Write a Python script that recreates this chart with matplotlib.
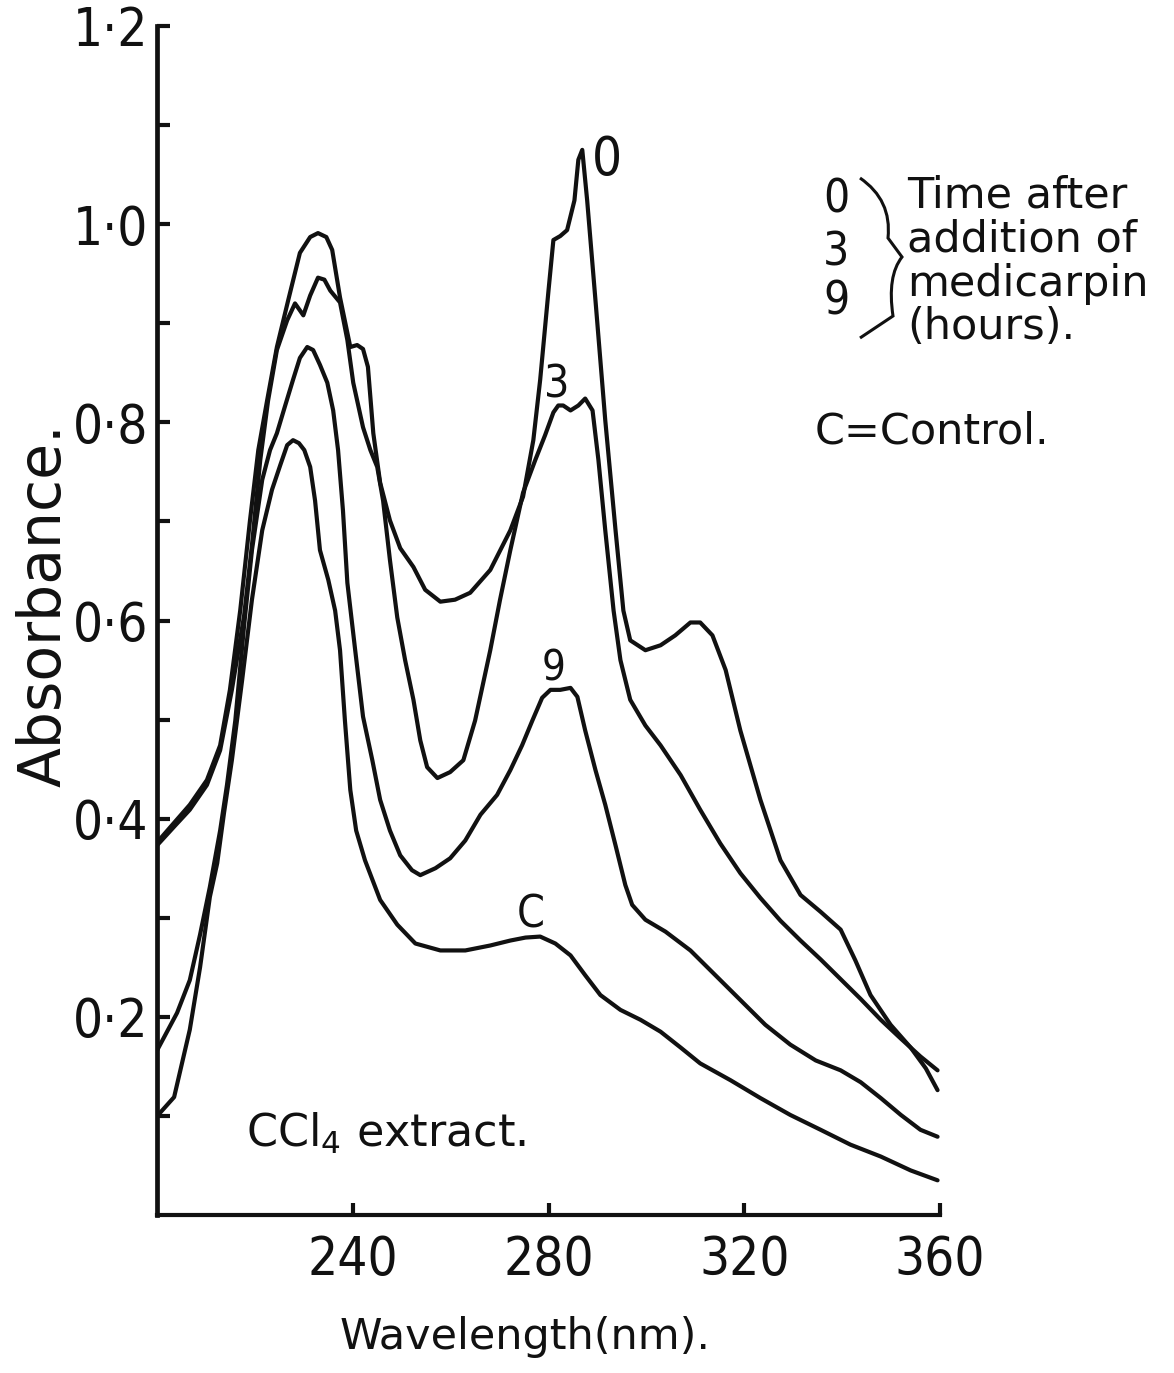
import matplotlib
matplotlib.use("Agg")
import matplotlib.pyplot as plt
from matplotlib import font_manager
from matplotlib.path import Path
from matplotlib.patches import PathPatch
from matplotlib.transforms import Affine2D
from matplotlib.ticker import FixedLocator, FuncFormatter

# ---------------------------------------------------------------------------
# UV absorption spectra of the CCl4 extract (wavelength nm, absorbance)
# ---------------------------------------------------------------------------
curve_0 = [
    (200.0, 0.376), (203.7, 0.397), (206.7, 0.414), (210.2, 0.439), (212.9, 0.474),
    (214.9, 0.530), (217.0, 0.610), (219.0, 0.701), (220.7, 0.772), (222.5, 0.822),
    (224.5, 0.876), (226.8, 0.923), (229.2, 0.971), (231.3, 0.987), (232.9, 0.991),
    (234.6, 0.987), (235.8, 0.974), (237.4, 0.926), (239.5, 0.876), (240.9, 0.878),
    (242.1, 0.874), (243.1, 0.856), (244.2, 0.789), (245.6, 0.739), (247.6, 0.701),
    (249.7, 0.673), (252.4, 0.654), (254.8, 0.631), (257.9, 0.619), (260.9, 0.621),
    (264.0, 0.628), (268.1, 0.651), (272.2, 0.691), (274.8, 0.725), (276.9, 0.782),
    (278.3, 0.843), (280.0, 0.933), (281.0, 0.984), (282.4, 0.988), (283.8, 0.994),
    (285.3, 1.024), (286.1, 1.065), (286.9, 1.075), (287.9, 1.024), (289.6, 0.923),
    (291.6, 0.802), (293.7, 0.691), (295.3, 0.610), (296.7, 0.580), (299.8, 0.570),
    (302.9, 0.575), (305.9, 0.585), (309.0, 0.598), (311.0, 0.598), (313.5, 0.585),
    (316.2, 0.550), (319.2, 0.489), (323.3, 0.419), (327.4, 0.358), (331.5, 0.323),
    (335.6, 0.306), (339.7, 0.288), (342.7, 0.257), (345.8, 0.222), (349.9, 0.192),
    (354.0, 0.169), (357.1, 0.148), (359.5, 0.126),
]

curve_3 = [
    (200.0, 0.373), (203.7, 0.393), (206.7, 0.409), (210.2, 0.434), (212.9, 0.469),
    (215.3, 0.530), (217.8, 0.605), (219.4, 0.676), (221.1, 0.762), (222.7, 0.822),
    (224.5, 0.873), (226.6, 0.903), (228.2, 0.920), (229.2, 0.913), (229.9, 0.908),
    (231.3, 0.928), (232.9, 0.946), (234.2, 0.944), (235.4, 0.933), (237.4, 0.921),
    (238.9, 0.883), (240.1, 0.840), (242.1, 0.795), (243.6, 0.772), (245.0, 0.755),
    (246.2, 0.721), (247.6, 0.661), (249.1, 0.603), (250.7, 0.560), (252.4, 0.520),
    (253.8, 0.479), (255.2, 0.452), (257.3, 0.441), (259.9, 0.447), (262.6, 0.459),
    (265.0, 0.499), (268.1, 0.570), (270.1, 0.621), (272.2, 0.671), (274.8, 0.729),
    (277.3, 0.762), (279.3, 0.787), (281.0, 0.810), (282.0, 0.817), (283.0, 0.817),
    (284.5, 0.812), (286.1, 0.817), (287.5, 0.824), (289.0, 0.812), (290.2, 0.762),
    (291.6, 0.691), (293.3, 0.610), (294.7, 0.560), (296.7, 0.520), (299.8, 0.494),
    (302.9, 0.474), (307.0, 0.444), (311.0, 0.409), (315.1, 0.375), (319.2, 0.345),
    (323.3, 0.320), (327.4, 0.297), (331.5, 0.277), (335.6, 0.258), (339.7, 0.238),
    (343.8, 0.218), (347.9, 0.197), (352.0, 0.178), (356.0, 0.160), (359.5, 0.146),
]

curve_9 = [
    (200.0, 0.166), (204.1, 0.204), (206.7, 0.237), (208.8, 0.283), (210.8, 0.331),
    (212.9, 0.388), (214.3, 0.434), (216.0, 0.499), (217.8, 0.595), (219.4, 0.671),
    (221.5, 0.742), (223.1, 0.772), (224.5, 0.789), (226.2, 0.817), (227.8, 0.843),
    (229.2, 0.865), (230.7, 0.876), (231.9, 0.873), (233.3, 0.858), (234.8, 0.840),
    (236.0, 0.812), (237.0, 0.772), (238.0, 0.711), (238.9, 0.638), (240.5, 0.570),
    (242.1, 0.503), (244.0, 0.459), (245.6, 0.419), (247.6, 0.388), (249.7, 0.363),
    (252.1, 0.348), (253.8, 0.343), (256.9, 0.350), (259.9, 0.360), (263.0, 0.378),
    (266.1, 0.404), (269.5, 0.424), (272.2, 0.449), (274.6, 0.474), (276.7, 0.499),
    (278.7, 0.522), (280.4, 0.530), (282.4, 0.530), (284.5, 0.532), (285.9, 0.523),
    (287.5, 0.489), (289.6, 0.449), (291.6, 0.414), (293.7, 0.373), (295.7, 0.333),
    (297.1, 0.313), (299.8, 0.298), (303.9, 0.286), (309.0, 0.267), (314.1, 0.242),
    (319.2, 0.217), (324.3, 0.192), (329.4, 0.172), (334.6, 0.156), (339.7, 0.146),
    (343.8, 0.134), (347.9, 0.118), (352.0, 0.101), (356.0, 0.086), (359.5, 0.079),
]

curve_c = [
    (200.6, 0.103), (203.5, 0.119), (206.7, 0.187), (208.8, 0.250), (210.8, 0.321),
    (212.3, 0.355), (213.7, 0.406), (215.3, 0.459), (217.4, 0.540), (219.4, 0.621),
    (221.5, 0.691), (223.5, 0.732), (225.2, 0.757), (226.6, 0.777), (227.8, 0.782),
    (229.0, 0.779), (230.1, 0.772), (231.3, 0.755), (232.3, 0.721), (233.3, 0.671),
    (235.0, 0.641), (236.4, 0.610), (237.4, 0.570), (238.4, 0.499), (239.5, 0.429),
    (240.7, 0.388), (242.5, 0.358), (245.6, 0.318), (249.1, 0.293), (252.8, 0.274),
    (257.9, 0.267), (263.0, 0.267), (268.1, 0.272), (272.2, 0.277), (275.3, 0.280),
    (278.3, 0.281), (281.4, 0.274), (284.5, 0.262), (287.5, 0.242), (290.6, 0.222),
    (294.7, 0.207), (298.8, 0.197), (302.9, 0.185), (307.0, 0.169), (311.0, 0.153),
    (317.2, 0.136), (323.3, 0.118), (329.4, 0.101), (335.6, 0.086), (341.7, 0.071),
    (347.9, 0.059), (354.0, 0.045), (359.5, 0.035),
]

# curve label text and the (wavelength, absorbance) where it sits
curve_labels = ["0", "3", "9", "C"]
label_positions = [(292.0, 1.065), (281.6, 0.838), (281.0, 0.552), (276.3, 0.303)]

x_ticks = [240, 280, 320, 360]
y_major = [0.2, 0.4, 0.6, 0.8, 1.0, 1.2]
y_minor = [0.1, 0.3, 0.5, 0.7, 0.9, 1.1]

legend_hours = ["0", "3", "9"]
legend_lines = ["Time after", "addition of", "medicarpin", "(hours)."]

# ---------------------------------------------------------------------------
W, H, DPI = 1174, 1373, 100
available = {f.name for f in font_manager.fontManager.ttflist}
TEXT_FONT = "DejaVu Sans"
NUM_FONT = "Liberation Sans Narrow" if "Liberation Sans Narrow" in available else "DejaVu Sans"
NUM_STRETCH = "normal" if NUM_FONT != "DejaVu Sans" else "condensed"

plt.rcParams["font.family"] = [TEXT_FONT]
plt.rcParams["mathtext.default"] = "regular"

fig = plt.figure(figsize=(W / DPI, H / DPI), dpi=DPI, facecolor="white")
ax = fig.add_axes([157 / W, 1 - 1215 / H, (940 - 157) / W, (1215 - 26) / H])

INK = "#111111"
for pts in (curve_0, curve_3, curve_9, curve_c):
    wl, ab = zip(*pts)
    ax.plot(wl, ab, color=INK, lw=3.0, solid_joinstyle="round", solid_capstyle="round")

ax.set_xlim(200, 360)
ax.set_ylim(0, 1.2)

for side in ("top", "right"):
    ax.spines[side].set_visible(False)
ax.spines["left"].set_linewidth(3.4)
ax.spines["bottom"].set_linewidth(3.0)
for sp in ("left", "bottom"):
    ax.spines[sp].set_color(INK)

ax.xaxis.set_major_locator(FixedLocator(x_ticks))
ax.yaxis.set_major_locator(FixedLocator(y_major))
ax.yaxis.set_minor_locator(FixedLocator(y_minor))
ax.yaxis.set_major_formatter(FuncFormatter(lambda v, p: f"{v:.1f}".replace(".", "\u00b7")))
ax.tick_params(axis="both", which="both", direction="in", length=9, width=3.0, color=INK)
ax.tick_params(axis="y", which="major", pad=6)
ax.tick_params(axis="x", which="major", pad=14)
for lab in ax.get_xticklabels() + ax.get_yticklabels():
    lab.set_fontfamily(NUM_FONT)
    lab.set_fontstretch(NUM_STRETCH)
    lab.set_fontsize(38)
    lab.set_color(INK)

ylab = ax.set_ylabel("Absorbance.", fontsize=42, color=INK)
ylab.set_va("center")
ax.yaxis.set_label_coords((44 - 157) / (940 - 157), (1215 - 605) / (1215 - 26))
ax.set_xlabel("Wavelength(nm).", fontsize=31, color=INK)
ax.xaxis.set_label_coords(0.47, -0.085)

# labels on the curves
sizes = [38, 32, 30, 32]
for text, (x, y), s in zip(curve_labels, label_positions, sizes):
    ax.text(x, y, text, fontsize=s, ha="center", va="center", color=INK,
            fontfamily=NUM_FONT, fontstretch=NUM_STRETCH)

ax.text(218.2, 0.082, r"$\mathregular{CCl_4}$ extract.", fontsize=32, color=INK,
        ha="left", va="center")

# key in the right margin, positioned in figure pixels
px = Affine2D().scale(1 / W, -1 / H).translate(0, 1) + fig.transFigure
for txt, y in zip(legend_hours, [200, 253, 302]):
    fig.text(836, y, txt, transform=px, fontsize=33, ha="center", va="center",
             color=INK, fontfamily=NUM_FONT, fontstretch=NUM_STRETCH)
for txt, y in zip(legend_lines, [196, 240, 284, 327]):
    fig.text(907, y, txt, transform=px, fontsize=31, ha="left", va="center", color=INK)
fig.text(815, 432, "C=Control.", transform=px, fontsize=31, ha="left", va="center", color=INK)

brace = Path(
    [(860, 178), (892, 200), (888, 238), (902, 257), (887, 276), (893, 316), (860, 338)],
    [Path.MOVETO, Path.CURVE3, Path.CURVE3, Path.LINETO, Path.CURVE3, Path.CURVE3, Path.LINETO],
)
fig.add_artist(PathPatch(brace, transform=px, fill=False, lw=2.2, edgecolor=INK))

fig.savefig("out.png", dpi=DPI, facecolor="white")
